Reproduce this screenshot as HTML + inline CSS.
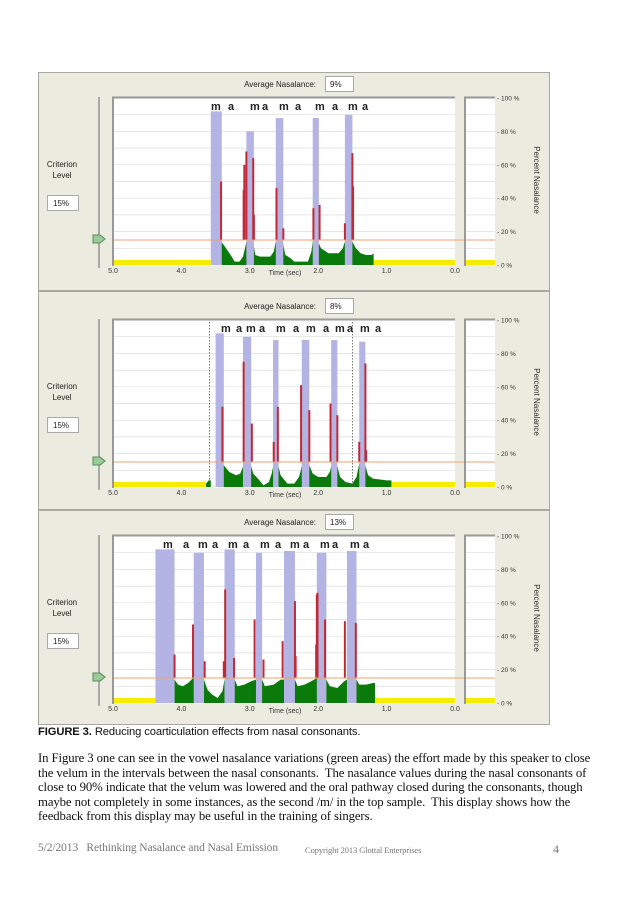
<!DOCTYPE html>
<html><head><meta charset="utf-8">
<style>
body{margin:0;width:638px;height:903px;background:#fff;position:relative;overflow:hidden;font-family:"Liberation Serif",serif}
svg{position:absolute;left:0;top:0}
.t{position:absolute;left:38px;font-size:12.75px;color:#111;white-space:nowrap;letter-spacing:-0.1px}
</style></head><body>
<svg id="fig" width="638" height="730"></svg>
<div class="t" style="top:726px;font-family:'Liberation Sans',sans-serif;font-size:11.2px"><b>FIGURE 3.</b> Reducing coarticulation effects from nasal consonants.</div>
<div class="t" style="top:751px">In Figure 3 one can see in the vowel nasalance variations (green areas) the effort made by this speaker to close</div>
<div class="t" style="top:766px">the velum in the intervals between the nasal consonants.&nbsp; The nasalance values during the nasal consonants of</div>
<div class="t" style="top:780px">close to 90% indicate that the velum was lowered and the oral pathway closed during the consonants, though</div>
<div class="t" style="top:795px">maybe not completely in some instances, as the second /m/ in the top sample.&nbsp; This display shows how the</div>
<div class="t" style="top:809px">feedback from this display may be useful in the training of singers.</div>
<div class="t" style="top:842px;color:#777;font-size:11.5px">5/2/2013&nbsp;&nbsp; Rethinking Nasalance and Nasal Emission</div>
<div class="t" style="top:845px;left:305px;color:#777;font-size:8.5px">Copyright 2013 Glottal Enterprises</div>
<div class="t" style="top:842px;left:553px;color:#777;font-size:12px">4</div>
<script>
// ---- data ----
const timeTicks=[5.0,4.0,3.0,2.0,1.0,0.0];
const pctTicks=[0,20,40,60,80,100];
const avgNasalance=["9%","8%","13%"];
const criterion=15;
const p1Bursts=[[3.57,3.41,92],[3.05,2.94,80],[2.62,2.51,88],[2.08,1.99,88],[1.61,1.50,90]];
const p1Spikes=[[3.42,50],[3.09,45],[3.08,60],[3.05,68],[2.95,64],[2.94,30],[2.61,46],[2.51,22],[2.07,34],[1.98,36],[1.61,25],[1.50,67],[1.49,47]];
const p1Green=[[3.42,14],[3.38,12],[3.33,9],[3.28,6],[3.22,2],[3.15,2],[3.1,5],[3.07,10],[3.05,14],[2.95,14],[2.92,6],[2.85,5],[2.7,5],[2.65,8],[2.62,14],[2.52,14],[2.48,6],[2.4,4],[2.35,2],[2.15,2],[2.1,8],[2.08,14],[2.0,14],[1.96,10],[1.85,7],[1.7,7],[1.64,10],[1.61,14],[1.5,14],[1.45,10],[1.38,7],[1.3,6],[1.22,6],[1.19,7]];
const p1Yellow=[[5,3.57],[1.19,0]];
const p2Bursts=[[3.50,3.38,92],[3.10,2.98,90],[2.66,2.58,88],[2.24,2.13,88],[1.81,1.72,88],[1.40,1.31,87]];
const p2Spikes=[[3.40,48],[3.09,75],[2.97,38],[2.65,27],[2.59,48],[2.25,61],[2.13,46],[1.82,50],[1.72,43],[1.40,27],[1.31,74],[1.30,22]];
const p2Green=[[3.40,14],[3.36,12],[3.3,9],[3.2,7],[3.14,8],[3.1,12],[3.09,14],[2.99,14],[2.95,8],[2.88,5],[2.8,1],[2.72,3],[2.68,8],[2.65,14],[2.59,14],[2.55,7],[2.45,2],[2.35,2],[2.28,6],[2.23,14],[2.14,14],[2.08,8],[2.0,6],[1.88,6],[1.83,9],[1.80,14],[1.73,14],[1.68,6],[1.6,3],[1.5,2],[1.44,6],[1.40,14],[1.32,14],[1.27,7],[1.2,5],[1.0,4],[0.93,4]];
const p2GreenSmall=[[3.64,2],[3.60,4],[3.57,4]];
const p2Yellow=[[5,3.64],[0.93,0]];
const p2Markers=[3.59,1.50];
const p3Bursts=[[4.38,4.10,92],[3.82,3.67,90],[3.37,3.22,92],[2.91,2.82,90],[2.50,2.34,91],[2.02,1.88,90],[1.58,1.44,91]];
const p3Spikes=[[4.10,29],[3.83,47],[3.66,25],[3.38,25],[3.36,68],[3.23,27],[2.93,50],[2.80,26],[2.52,37],[2.34,61],[2.33,28],[2.03,35],[2.02,65],[2.01,66],[1.90,50],[1.61,49],[1.45,48]];
const p3Green=[[4.10,14],[4.05,11],[3.98,10],[3.9,12],[3.83,15],[3.67,14],[3.62,8],[3.55,5],[3.47,3],[3.4,7],[3.37,14],[3.22,14],[3.18,10],[3.08,11],[2.98,13],[2.91,14],[2.82,14],[2.78,10],[2.65,11],[2.55,14],[2.34,14],[2.3,10],[2.2,11],[2.1,13],[2.02,15],[1.88,14],[1.83,10],[1.72,9],[1.62,13],[1.58,14],[1.44,14],[1.4,11],[1.3,11],[1.2,12],[1.17,12]];
const p3Yellow=[[5,4.38],[1.17,0]];
const p1Letters=[[211,"m"],[228,"a"],[250,"m"],[262,"a"],[279,"m"],[295,"a"],[315,"m"],[332,"a"],[348,"m"],[362,"a"]];
const p2Letters=[[221,"m"],[236,"a"],[246,"m"],[259,"a"],[276,"m"],[293,"a"],[306,"m"],[323,"a"],[335,"m"],[347,"a"],[360,"m"],[375,"a"]];
const p3Letters=[[163,"m"],[183,"a"],[198,"m"],[212,"a"],[228,"m"],[243,"a"],[260,"m"],[275,"a"],[290,"m"],[303,"a"],[320,"m"],[332,"a"],[350,"m"],[363,"a"]];
const panels=[
 {off:0,bursts:p1Bursts,spikes:p1Spikes,green:[p1Green],yellow:p1Yellow,letters:p1Letters,markers:[],avg:avgNasalance[0],top:72,h:218},
 {off:222,bursts:p2Bursts,spikes:p2Spikes,green:[p2Green,p2GreenSmall],yellow:p2Yellow,letters:p2Letters,markers:p2Markers,avg:avgNasalance[1],top:291,h:218},
 {off:438,bursts:p3Bursts,spikes:p3Spikes,green:[p3Green],yellow:p3Yellow,letters:p3Letters,markers:[],avg:avgNasalance[2],top:510,h:214}
];
// ---- drawing ----
const svg=document.getElementById('fig');
const NS="http://www.w3.org/2000/svg";
const X0=113,X1=455;
const xT=t=>X0+(5-t)/5*(X1-X0);
function mk(tag,attrs,parent,txt){const e=document.createElementNS(NS,tag);for(const k in attrs)e.setAttribute(k,attrs[k]);if(txt!==undefined)e.textContent=txt;(parent||svg).appendChild(e);return e;}
panels.forEach((p,i)=>{
 const o=p.off;
 const yP=v=>o+265-v/100*167;
 const g=mk('g',{});
 
 
 const fr=mk('rect',{x:38.5,y:p.top+0.5,width:511,height:p.h,fill:'#ebebdf',stroke:'#a8a8a0'},g);
 
 const at=mk('text',{x:316,y:o+87,'font-size':8,'text-anchor':'end','font-family':'Liberation Sans,sans-serif',fill:'#222'},g,'Average Nasalance:');
 
 const ab=mk('rect',{x:325.5,y:o+76.5,width:28,height:15,fill:'#fff',stroke:'#aaa'},g);
 
 mk('text',{x:330,y:o+87,'font-size':8,'font-family':'Liberation Sans,sans-serif',fill:'#222'},g,p.avg);
 const cl=mk('text',{x:62,y:o+167,'font-size':8,'text-anchor':'middle','font-family':'Liberation Sans,sans-serif',fill:'#222'},g,'Criterion');
 
 mk('text',{x:62,y:o+178,'font-size':8,'text-anchor':'middle','font-family':'Liberation Sans,sans-serif',fill:'#222'},g,'Level');
 const cb=mk('rect',{x:47.5,y:o+195.5,width:31,height:15,fill:'#fff',stroke:'#aaa'},g);
 
 mk('text',{x:53,y:o+206,'font-size':8,'font-family':'Liberation Sans,sans-serif',fill:'#222'},g,'15%');
 mk('line',{x1:99,y1:o+97,x2:99,y2:o+268,stroke:'#aaa','stroke-width':2},g);
 const sl=mk('path',{d:`M93 ${o+235} h7 l5 4 l-5 4 h-7z`,fill:'#9c9',stroke:'#5a8a5a'},g);
 
 mk('rect',{x:X0,y:o+97,width:X1-X0,height:169,fill:'#fff'},g);
 mk('rect',{x:465,y:o+97,width:30,height:169,fill:'#fff'},g);
 for(let v=0;v<=100;v+=10){mk('line',{x1:X0,x2:X1,y1:yP(v),y2:yP(v),stroke:'#ddd','stroke-width':0.7},g);mk('line',{x1:465,x2:495,y1:yP(v),y2:yP(v),stroke:'#ddd','stroke-width':0.7},g);}
 p.yellow.forEach(r=>{const e=mk('rect',{x:xT(r[0]),y:yP(3),width:xT(r[1])-xT(r[0]),height:yP(0)-yP(3),fill:'#f5ec00'},g);});
 mk('rect',{x:466,y:yP(3),width:29,height:yP(0)-yP(3),fill:'#f5ec00'},g);
 p.green.forEach(gs=>{let d=`M${xT(gs[0][0])} ${yP(0)}`;gs.forEach(q=>d+=` L${xT(q[0])} ${yP(q[1])}`);d+=` L${xT(gs[gs.length-1][0])} ${yP(0)}Z`;const e=mk('path',{d,fill:'#0a7a0a'},g);});
 p.bursts.forEach(b=>{const e=mk('rect',{x:xT(b[0]),y:yP(b[2]),width:xT(b[1])-xT(b[0]),height:yP(0)-yP(b[2]),fill:'#b4b4e4'},g);});
 p.spikes.forEach(s=>{const e=mk('rect',{x:xT(s[0])-1,y:yP(s[1]),width:2,height:yP(criterion)-yP(s[1]),fill:'#c02a36'},g);});
 p.markers.forEach(m=>{const e=mk('line',{x1:xT(m),x2:xT(m),y1:o+97,y2:yP(0),stroke:'#555','stroke-dasharray':'1.5 1.5','stroke-width':0.8},g);});
 const cr=mk('line',{x1:X0,x2:495,y1:yP(criterion),y2:yP(criterion),stroke:'#f0a070','stroke-width':1},g);
 
 mk('path',{d:`M${X0} ${o+266} V${o+97.5} H${X1}`,fill:'none',stroke:'#999','stroke-width':2},g);
 mk('path',{d:`M465 ${o+266} V${o+97.5} H495`,fill:'none',stroke:'#999','stroke-width':2},g);
 p.letters.forEach(l=>mk('text',{x:l[0],y:o+110,'font-size':11,'font-weight':'bold','font-family':'Liberation Sans,sans-serif',fill:'#222'},g,l[1]));
 timeTicks.forEach(t=>{const e=mk('text',{x:xT(t),y:o+273,'font-size':7,'text-anchor':'middle','font-family':'Liberation Sans,sans-serif',fill:'#333'},g,t.toFixed(1));});
 mk('text',{x:285,y:o+275,'font-size':7,'text-anchor':'middle','font-family':'Liberation Sans,sans-serif',fill:'#333'},g,'Time (sec)');
 pctTicks.forEach(v=>{const e=mk('text',{x:497,y:yP(v)+2.5,'font-size':6.5,'font-family':'Liberation Sans,sans-serif',fill:'#333'},g,'- '+v+' %');});
 const yt=mk('text',{x:0,y:0,'font-size':8,'text-anchor':'middle','font-family':'Liberation Sans,sans-serif',fill:'#333',transform:`translate(534 ${o+180}) rotate(90)`},g,'Percent Nasalance');
 
});
</script>
</body></html>
